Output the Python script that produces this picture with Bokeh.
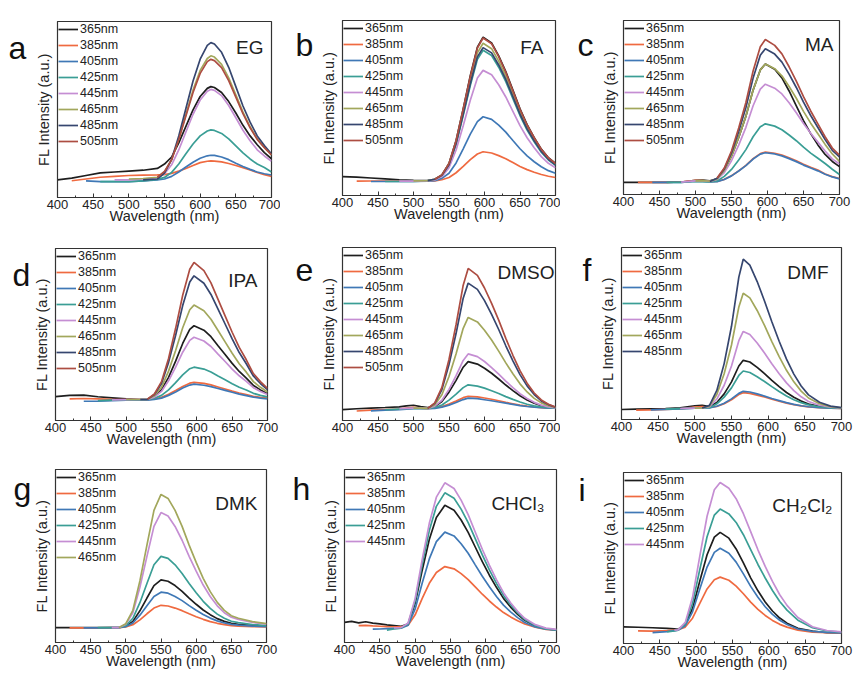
import numpy as np
from bokeh.plotting import figure
from bokeh.models import Range1d, FixedTicker, Legend, LegendItem, Label, ColumnDataSource
from bokeh.layouts import row, column
from bokeh.embed import file_html
from bokeh.resources import INLINE

FONT = "Liberation Sans"

excitations = ["365nm", "385nm", "405nm", "425nm", "445nm", "465nm", "485nm", "505nm"]
colors = ["#1e1e1e", "#ef6a40", "#3f78b6", "#3a9e95", "#c58ed3", "#a2a75c", "#36466f", "#ad4d42"]
x_ticks = [400, 450, 500, 550, 600, 650, 700]
x_minor = [425, 475, 525, 575, 625, 675]
N = None

# ---------------- a: EG ----------------
wl_a = [400, 420, 440, 460, 480, 500, 520, 540, 550, 560, 570, 580, 590, 600, 610, 615, 620, 630, 640, 650, 660, 670, 680, 690, 700]
a_365 = [10, 11, 12.5, 14, 14.5, 15, 15.5, 16.5, 19, 23, 31, 40.4, 49.8, 57.4, 62, 63, 62.5, 59.7, 54.5, 48, 41, 35, 30, 25.5, 22]
a_385 = [N, 9.5, 10.5, 11.5, 12, 12.5, 12.7, 12.8, 13, 13.7, 15, 16.5, 18.2, 19.8, 20.6, 20.8, 20.7, 20.2, 19.3, 18.2, 17, 15.6, 14.2, 13, 12]
a_405 = [N, N, 9.5, 9, 9, 9, 9.5, 10, 10.5, 12, 14.5, 17.3, 20, 22.3, 23.7, 24, 23.9, 23, 21.5, 19.5, 17.6, 16, 14.5, 13.5, 12.8]
a_425 = [N, N, N, 9, 9, 9, 9.5, 10.3, 11.4, 14.3, 19, 24.8, 30.4, 35, 37.8, 38.4, 38.1, 36.4, 33.3, 29.3, 25.3, 21.9, 19, 17, 14.5]
a_445 = [N, N, N, N, 10, 10, 10.5, 11.3, 13.5, 18.6, 27, 37.2, 47.3, 55.4, 60.4, 61.4, 60.9, 57.9, 52.3, 45.3, 38.2, 32.2, 27.1, 23.6, 20.6]
a_465 = [N, N, N, N, N, 10.5, 10.8, 11.5, 14.5, 21.4, 33.2, 47.1, 61, 72.2, 79, 80.5, 79.8, 75.6, 68, 58.3, 48.5, 40.2, 33.2, 28.4, 24.2]
a_485 = [N, N, N, N, N, N, 10, 10.5, 13.9, 21.7, 35, 50.6, 66.2, 78.6, 86.4, 88, 87.2, 82.5, 74, 63, 52, 42.8, 35, 29.5, 24.8]
a_505 = [N, N, N, N, N, N, N, 11.5, 14.8, 21.5, 33, 46.3, 59.7, 70.5, 77.2, 78.5, 77.8, 73.8, 66.4, 57, 47.7, 39.6, 33, 28.3, 24.2]

# ---------------- b: FA ----------------
wl_b = [400, 420, 440, 460, 480, 500, 520, 530, 540, 550, 560, 570, 580, 590, 598, 610, 620, 630, 640, 650, 660, 670, 680, 690, 700]
b_365 = [10.8, 10.5, 10, 9.5, 9, 8.7, 8.5, 9.3, 11.8, 18.3, 31.5, 49.5, 68.4, 84.8, 90.5, 87.2, 79.8, 70.8, 60.2, 49.5, 40.5, 33.1, 26.5, 21.6, 18.3]
b_385 = [N, 8.2, 8.3, 8.3, 8.3, 8.3, 8.3, 8.4, 9, 10.3, 13, 16.6, 20.5, 23.7, 25, 24.3, 22.8, 21, 18.8, 16.6, 14.8, 13.3, 12, 11, 10.3]
b_405 = [N, N, 8, 8, 8, 8.1, 8.2, 8.5, 9.8, 12.7, 18.6, 26.7, 35.1, 42.2, 45, 43.5, 40.2, 36.2, 31.4, 26.7, 22.6, 19.3, 16.4, 14.2, 12.7]
b_425 = [N, N, N, 8, 8, 8.1, 8.3, 9, 11.3, 17.3, 29.2, 45.7, 62.8, 77.8, 83, 80, 73.3, 65.1, 55.4, 45.7, 37.4, 30.7, 24.7, 20.3, 17.3]
b_445 = [N, N, N, N, 8.2, 8.2, 8.3, 8.9, 10.8, 15.9, 26, 39.9, 54.4, 67.1, 71.5, 69, 63.3, 56.3, 48.1, 39.9, 33, 27.3, 22.2, 18.4, 15.9]
b_465 = [N, N, N, N, N, 8.4, 8.5, 9.3, 11.6, 18, 30.5, 47.8, 65.8, 81.5, 87, 83.9, 76.8, 68.2, 58, 47.8, 39.1, 32, 25.8, 21, 17.9]
b_485 = [N, N, N, N, N, N, 8.5, 9.3, 11.5, 17.6, 29.8, 46.5, 64, 79.2, 84.5, 81.5, 74.6, 66.3, 56.4, 46.5, 38.1, 31.3, 25.2, 20.7, 17.6]
b_505 = [N, N, N, N, N, N, N, 9.3, 11.8, 18.3, 31.3, 49.3, 68, 84.3, 90, 86.7, 79.4, 70.4, 59.8, 49.3, 40.3, 33, 26.4, 21.5, 18.3]

# ---------------- c: MA ----------------
wl_c = [400, 420, 440, 460, 480, 500, 510, 520, 530, 540, 550, 560, 570, 580, 590, 597, 610, 620, 630, 640, 650, 660, 670, 680, 690, 700]
c_365 = [7, 7, 7, 7, 7.2, 8.2, 8.3, 7.8, 9, 13.8, 22, 32.8, 45, 60, 71.6, 75, 72, 67, 59.5, 51, 42.5, 35, 28.5, 23, 19, 16]
c_385 = [N, 7, 7, 7, 7.2, 8.2, 8, 7.5, 7.5, 8.7, 10.8, 13.6, 16.7, 20.6, 23.5, 24.4, 23.7, 22.7, 21.1, 19.4, 17.4, 15.7, 14.1, 11.8, 10.3, 9.2]
c_405 = [N, N, 7, 7, 7, 7.6, 7.5, 7.2, 7.4, 8.6, 10.7, 13.5, 16.6, 20.4, 23.2, 24, 23.3, 22.2, 20.6, 18.9, 16.9, 15.2, 13.6, 11.6, 10.1, 9]
c_425 = [N, N, N, 7, 7, 7.5, 7.4, 7.2, 7.8, 10.4, 14.4, 19.8, 25.8, 33.2, 38.9, 40.6, 39.3, 37.2, 34.2, 30.9, 27.2, 23.8, 20.8, 17.8, 14.5, 11.5]
c_445 = [N, N, N, N, 7.1, 7.8, 7.8, 7.5, 8.7, 12.6, 19.4, 28.4, 38.6, 51, 60.6, 63.4, 61.1, 57.8, 52.7, 47, 40.8, 35.2, 30.1, 25, 20.5, 17.5]
c_465 = [N, N, N, N, N, 7.8, 8, 7.6, 9, 13.8, 22, 32.8, 45, 60, 71.6, 75, 72.3, 68.2, 62.1, 55.3, 47.8, 41, 34.9, 28.8, 23.3, 19]
c_485 = [N, N, N, N, N, N, N, 7.5, 9.3, 14.7, 23.9, 36.2, 50, 66.9, 80, 83.8, 80.7, 76.1, 69.2, 61.5, 53.1, 45.4, 38.5, 31.6, 25.4, 21.6]
c_505 = [N, N, N, N, N, N, N, N, 9.5, 15.2, 25, 38.2, 52.9, 71, 84.9, 89.1, 85.7, 80.8, 73.4, 65.2, 56.2, 48, 40.6, 33.2, 26.7, 22.6]

# ---------------- d: IPA ----------------
wl_d = [400, 420, 440, 460, 480, 500, 520, 530, 540, 550, 560, 570, 580, 590, 596, 610, 620, 630, 640, 650, 660, 670, 680, 690, 700]
d_365 = [13.9, 14.6, 14.7, 13.8, 13.2, 12.6, 12.2, 12.3, 14, 17.8, 25.1, 34.5, 44.8, 53, 55.1, 52.5, 48.7, 43.5, 38.4, 33.2, 28.5, 24.6, 20.4, 17.8, 15.6]
d_385 = [N, 12.6, 12.8, 12.6, 12.3, 12.2, 12.1, 12.1, 12.5, 13.5, 15.2, 17.4, 19.8, 21.7, 22.2, 21.6, 20.7, 19.5, 18.3, 17.1, 16, 15.1, 14.1, 13.5, 13]
d_405 = [N, N, 11.2, 11.3, 11.6, 11.8, 11.9, 11.9, 12.2, 13, 14.6, 16.6, 18.9, 20.6, 21.1, 20.5, 19.7, 18.6, 17.5, 16.4, 15.3, 14.5, 13.6, 13, 12.5]
d_425 = [N, N, N, 11.5, 11.8, 12, 12.1, 12.2, 12.9, 14.6, 17.8, 22, 26.5, 30.1, 31, 29.9, 28.2, 25.9, 23.7, 21.4, 19.3, 17.7, 15.8, 14.6, 13.7]
d_445 = [N, N, N, N, 12, 12.1, 12.2, 12.3, 13.6, 16.9, 23.1, 31, 39.7, 46.6, 48.4, 46.2, 43, 38.6, 34.3, 29.9, 26, 22.7, 19.1, 16.9, 15.1]
d_465 = [N, N, N, N, N, 12.2, 12.2, 12.3, 14.4, 19.3, 28.7, 40.7, 53.9, 64.4, 67.1, 63.8, 58.9, 52.3, 45.7, 39.1, 33, 28.1, 22.6, 19.3, 16.6]
d_485 = [N, N, N, N, N, N, 12.2, 12.3, 15.1, 21.5, 33.8, 49.6, 66.8, 80.5, 84.1, 79.8, 73.3, 64.7, 56.1, 47.4, 39.5, 33, 25.9, 21.5, 18]
d_505 = [N, N, N, N, N, N, N, 12.4, 15.4, 22.6, 36.1, 53.6, 72.8, 87.9, 91.9, 87.1, 80, 70.4, 60.8, 51.3, 42.5, 35.3, 27.3, 22.6, 18.6]

# ---------------- e: DMSO ----------------
wl_e = [400, 420, 440, 460, 480, 490, 500, 510, 520, 530, 540, 550, 560, 570, 577, 590, 600, 610, 620, 630, 640, 650, 660, 670, 680, 690, 700]
e_365 = [6.3, 6.8, 7.2, 7.5, 7.9, 8.5, 8.8, 8, 7.4, 8.1, 11, 16.4, 23.2, 30.8, 34, 32.6, 30.2, 27.3, 24, 20.5, 17.3, 14.3, 11.9, 10, 8.6, 7.8, 7.3]
e_385 = [N, 5.5, 6, 6.3, 6.6, 7.2, 7.6, 7.2, 6.9, 7.3, 8, 9.5, 11.2, 13.2, 14, 13.7, 13, 12.3, 11.4, 10.5, 9.7, 8.9, 8.3, 7.8, 7.4, 7.2, 7.1]
e_405 = [N, N, 5.6, 6, 6.3, 6.6, 6.8, 6.8, 6.8, 7, 7.7, 8.9, 10.4, 12.1, 12.9, 12.6, 12, 11.4, 10.7, 10, 9.3, 8.6, 8.1, 7.7, 7.4, 7.2, 7.1]
e_425 = [N, N, N, 6.2, 6.6, 6.8, 7, 7, 7, 7.5, 9, 11.8, 15.2, 19, 20.6, 19.9, 18.7, 17.2, 15.6, 13.8, 12.2, 10.7, 9.4, 8.5, 7.8, 7.4, 7.1]
e_445 = [N, N, N, N, 6.8, 7, 7.2, 7.1, 7, 8.3, 11.7, 18, 25.9, 34.7, 38.5, 36.9, 34.1, 30.6, 26.8, 22.8, 19, 15.5, 12.7, 10.5, 8.9, 7.9, 7.3]
e_465 = [N, N, N, N, N, N, 7.2, 7.1, 7, 9.1, 14.9, 25.4, 38.6, 53.3, 59.6, 57, 52.2, 46.5, 40.1, 33.3, 27, 21.2, 16.5, 12.8, 10.2, 8.6, 7.5]
e_485 = [N, N, N, N, N, N, N, N, 7, 9.9, 17.9, 32.3, 50.4, 70.7, 79.4, 75.8, 69.3, 61.3, 52.6, 43.2, 34.5, 26.5, 20, 15, 11.3, 9.2, 7.7]
e_505 = [N, N, N, N, N, N, N, N, 7, 10.2, 19.1, 35.3, 55.5, 78.2, 87.9, 83.9, 76.6, 67.7, 58, 47.5, 37.7, 28.8, 21.6, 15.9, 11.9, 9.4, 7.8]

# ---------------- f: DMF ----------------
wl_f = [400, 420, 440, 460, 480, 500, 510, 520, 530, 540, 550, 560, 566, 575, 585, 595, 605, 615, 625, 635, 645, 655, 670, 685, 700]
f_365 = [5.8, 6, 6.2, 6.4, 6.8, 8, 8.3, 7.5, 9.9, 14.9, 21.9, 31.1, 34.4, 33.4, 30.3, 26.7, 22.7, 19.1, 15.7, 12.9, 10.7, 9, 7.6, 7, 6.7]
f_385 = [N, 5.4, 5.6, 5.9, 6.2, 7.2, 7.5, 7, 7.6, 9.2, 11.5, 14.5, 15.6, 15.2, 14.2, 13.1, 11.8, 10.6, 9.5, 8.6, 7.9, 7.3, 6.9, 6.6, 6.5]
f_405 = [N, N, 5.6, 5.9, 6.2, 6.6, 6.8, 6.7, 7.7, 9.5, 12, 15.2, 16.4, 16, 14.9, 13.6, 12.2, 11, 9.8, 8.8, 8, 7.4, 6.9, 6.6, 6.5]
f_425 = [N, N, N, 6, 6.3, 6.6, 6.8, 6.9, 9.1, 13, 18.4, 25.6, 28.2, 27.3, 24.9, 22.1, 19.1, 16.3, 13.7, 11.5, 9.8, 8.5, 7.4, 6.8, 6.6]
f_445 = [N, N, N, N, 6.4, 6.6, 6.7, 7.4, 11.9, 19.9, 31.1, 45.8, 51.2, 49.4, 44.5, 38.7, 32.4, 26.6, 21.3, 16.8, 13.2, 10.5, 8.3, 7.2, 6.7]
f_465 = [N, N, N, N, N, 6.6, 6.7, 7.8, 14.5, 26.6, 43.3, 65.4, 73.4, 70.7, 63.4, 54.7, 45.3, 36.6, 28.6, 21.9, 16.5, 12.5, 9.2, 7.5, 6.8]
f_485 = [N, N, N, N, N, N, 6.7, 8.2, 16.9, 32.5, 54.2, 82.8, 93.2, 89.7, 80.2, 68.9, 56.8, 45.5, 35.1, 26.4, 19.5, 14.3, 10, 7.8, 6.9]

# ---------------- g: DMK ----------------
wl_g = [400, 420, 440, 460, 480, 490, 500, 510, 520, 530, 540, 550, 560, 570, 580, 590, 600, 610, 620, 630, 640, 650, 660, 680, 700]
g_365 = [8.6, 8.6, 8.6, 8.6, 8.6, 8.6, 9.4, 12.2, 18.3, 25.7, 32.9, 36.2, 35.4, 32.9, 29.6, 25.7, 22.1, 18.8, 16.1, 13.8, 12.2, 11.1, 10.5, 9.8, 9.4]
g_385 = [N, 8.5, 8.5, 8.5, 8.6, 8.6, 9, 10.3, 13.1, 16.6, 19.9, 21.5, 21.1, 19.9, 18.4, 16.6, 14.9, 13.4, 12.1, 11.1, 10.3, 9.8, 9.5, 9.2, 9]
g_405 = [N, N, 8.5, 8.5, 8.6, 8.6, 9.2, 11.3, 15.8, 21.3, 26.6, 29.1, 28.5, 26.6, 24.2, 21.3, 18.6, 16.2, 14.1, 12.5, 11.3, 10.5, 10, 9.5, 9.2]
g_425 = [N, N, N, 8.6, 8.6, 8.6, 9.8, 14, 23, 34.1, 44.9, 49.8, 48.6, 44.9, 39.9, 34.1, 28.8, 23.8, 19.7, 16.4, 14, 12.3, 11.5, 10.4, 9.8]
g_445 = [N, N, N, N, 8.6, 8.6, 10.6, 17.2, 31.9, 49.8, 67.1, 75.1, 73.1, 67.1, 59.1, 49.8, 41.2, 33.2, 26.6, 21.2, 17.2, 14.6, 13.3, 11.6, 10.6]
g_465 = [N, N, N, N, N, 8.6, 10.9, 18.6, 35.6, 56.3, 76.4, 85.6, 83.3, 76.4, 67.1, 56.3, 46.3, 37.1, 29.4, 23.2, 18.6, 15.5, 14, 12.1, 10.9]

# ---------------- h: CHCl3 ----------------
wl_h = [400, 410, 420, 430, 440, 450, 460, 470, 480, 490, 500, 510, 520, 530, 542, 555, 565, 575, 585, 595, 605, 615, 625, 635, 645, 655, 670, 685, 700]
h_365 = [11.6, 12.2, 11.3, 12, 11.2, 10.8, 10.2, 9.8, 9.4, 10.6, 22.7, 41.8, 59.5, 72.2, 79.3, 76.5, 70.8, 63.7, 55.2, 46.7, 38.9, 31.9, 25.5, 20.5, 16.3, 12.8, 9.6, 8, 7.2]
h_385 = [N, N, 9.7, 9.9, 9.6, 9.4, 9.2, 9.1, 9, 10, 16, 25.5, 34.2, 40.5, 43.9, 42.6, 39.8, 36.3, 32.1, 27.9, 24, 20.5, 17.3, 14.8, 12.6, 10.7, 8.8, 7.6, 7.2]
h_405 = [N, N, N, N, 7.7, 7.8, 8, 8.2, 8.3, 10, 19.4, 34.4, 48.3, 58.3, 63.8, 61.6, 57.1, 51.6, 44.9, 38.3, 32.2, 26.6, 21.6, 17.7, 14.4, 11.6, 9, 7.7, 7.2]
h_425 = [N, N, N, N, N, N, 7.2, 7.8, 8.3, 10.8, 24.1, 45.2, 64.7, 78.7, 86.5, 83.4, 77.1, 69.3, 60, 50.6, 42, 34.2, 27.2, 21.8, 17.1, 13.3, 9.8, 7.9, 7.3]
h_445 = [N, N, N, N, N, N, N, 8.5, 8.6, 11.3, 25.5, 48, 68.9, 84, 92.3, 89, 82.3, 73.9, 63.9, 53.9, 44.7, 36.4, 28.8, 23, 18, 14, 10.3, 8.3, 7.6]

# ---------------- i: CH2Cl2 ----------------
wl_i = [400, 420, 440, 460, 470, 475, 485, 495, 505, 515, 525, 533, 545, 555, 565, 575, 585, 595, 605, 615, 625, 640, 660, 680, 700]
i_365 = [9.7, 9.5, 9.2, 8.8, 8.5, 8.3, 10.9, 20.5, 36.5, 51.9, 62.2, 65, 61.6, 55.3, 47.1, 38.4, 30.8, 24.3, 19, 14.9, 11.9, 8.9, 7.3, 6.3, 6.2]
i_385 = [N, 7.4, 7.2, 7.5, 7.8, 8, 9.6, 14.8, 23.5, 31.9, 37.3, 38.8, 37, 33.6, 29.1, 24.2, 20, 16.4, 13.5, 11.2, 9.6, 7.8, 6.6, 6.3, 6.2]
i_405 = [N, N, 6.4, 7, 7.5, 7.8, 10.4, 18.5, 31.9, 44.7, 53.3, 55.7, 52.8, 47.6, 40.7, 33.4, 27, 21.5, 17, 13.6, 11.1, 8.5, 7.1, 6.5, 6.2]
i_425 = [N, N, N, 6.8, 7.3, 7.8, 11.5, 23.5, 43.3, 62.4, 75.1, 78.6, 75.8, 70.8, 63.6, 54.9, 46.2, 38.3, 31, 24.6, 19.5, 13.6, 9.2, 7.3, 6.6]
i_445 = [N, N, N, N, 7.8, 8, 12.3, 27, 51.1, 74.4, 89.9, 94.2, 90.8, 84.7, 75.9, 65.4, 54.8, 45.1, 36.3, 28.5, 22.3, 15.2, 9.8, 7.6, 6.8]

letters = ["a", "b", "c", "d", "e", "f", "g", "h", "i"]
solvents = ["EG", "FA", "MA", "IPA", "DMSO", "DMF", "DMK", "CHCl\u2083", "CH\u2082Cl\u2082"]


def letter_fig(letter, wl_px, h, lx, base):
    f = figure(width=wl_px, height=h, x_range=Range1d(0, wl_px), y_range=Range1d(0, h),
               output_backend="svg", toolbar_location=None, min_border=0,
               x_axis_location=None, y_axis_location=None, outline_line_color=None)
    f.grid.visible = False
    f.add_layout(Label(x=lx, y=h - base, text=letter, text_font=FONT, text_font_size="32px",
                       text_baseline="alphabetic", text_align="left", text_color="#111111"))
    return f


def make_panel(wl, curves, letter, solvent, dims, letter_pos, solv_off, xtitle=True):
    w, h, lw, bl, br, bt, bb = dims
    p = figure(width=w - lw, height=h, x_range=Range1d(400, 700), y_range=Range1d(0, 100),
               output_backend="svg", toolbar_location=None,
               min_border_left=bl - lw, min_border_right=br, min_border_top=bt, min_border_bottom=bb)
    p.grid.visible = False
    p.outline_line_color = "#333333"
    p.outline_line_width = 1.2
    p.background_fill_color = "white"
    p.border_fill_color = "white"

    xa = p.xaxis[0]
    xa.ticker = FixedTicker(ticks=x_ticks, minor_ticks=x_minor)
    xa.major_tick_in = 4
    xa.major_tick_out = 0
    xa.minor_tick_in = 2
    xa.minor_tick_out = 0
    xa.major_tick_line_color = "#333333"
    xa.minor_tick_line_color = "#333333"
    xa.axis_line_color = "#333333"
    xa.major_label_standoff = 2
    xa.major_label_text_font = FONT
    xa.major_label_text_font_size = "13px"
    xa.major_label_text_color = "#222222"
    if xtitle:
        xa.axis_label = "Wavelength (nm)"
    xa.axis_label_standoff = -4
    xa.axis_label_text_font = FONT
    xa.axis_label_text_font_size = "14.5px"
    xa.axis_label_text_font_style = "normal"
    xa.axis_label_text_color = "#222222"

    ya = p.yaxis[0]
    ya.ticker = FixedTicker(ticks=[])
    ya.major_tick_in = 0
    ya.major_tick_out = 0
    ya.minor_tick_in = 0
    ya.minor_tick_out = 0
    ya.axis_line_color = "#333333"
    ya.major_label_text_font_size = "0px"
    ya.axis_label = "FL Intensity (a.u.)"
    ya.axis_label_standoff = 6
    ya.axis_label_text_font = FONT
    ya.axis_label_text_font_size = "14.5px"
    ya.axis_label_text_font_style = "normal"
    ya.axis_label_text_color = "#222222"

    items = []
    for k, vals in enumerate(curves):
        src = ColumnDataSource(dict(x=wl, y=np.array(vals, dtype=float)))
        r = p.line("x", "y", source=src, line_color=colors[k], line_width=1.7)
        items.append(LegendItem(label=excitations[k], renderers=[r]))
    legend = Legend(items=items, location="top_left", margin=1, padding=5, spacing=2,
                    glyph_width=20, glyph_height=14, label_height=14, label_standoff=2,
                    label_text_font=FONT, label_text_font_size="12.5px", label_text_color="#222222",
                    background_fill_alpha=0, border_line_color=None)
    p.add_layout(legend)

    p.add_layout(Label(x=700, y=100, x_offset=solv_off[0], y_offset=solv_off[1], text=solvent,
                       text_font=FONT, text_font_size="19px", text_baseline="alphabetic",
                       text_align="right", text_color="#222222"))
    lf = letter_fig(letter, lw, h, letter_pos[0], letter_pos[1])
    return row(lf, p)


# dims: (total width, height, letter strip width, frame-left offset, right border, top border, bottom border)
pa = make_panel(wl_a, [a_365, a_385, a_405, a_425, a_445, a_465, a_485, a_505], letters[0], solvents[0],
                (280, 229, 28, 57, 9, 21, 32), (8, 34), (-8, -26))
pb = make_panel(wl_b, [b_365, b_385, b_405, b_425, b_445, b_465, b_485, b_505], letters[1], solvents[1],
                (280, 229, 34, 62, 5, 20, 34), (15, 32), (-12, -27))
pc = make_panel(wl_c, [c_365, c_385, c_405, c_425, c_445, c_465, c_485, c_505], letters[2], solvents[2],
                (293, 229, 36, 63, 14, 20, 35), (17, 32), (-6, -24))
pd = make_panel(wl_d, [d_365, d_385, d_405, d_425, d_445, d_465, d_485, d_505], letters[3], solvents[3],
                (280, 223, 30, 53, 13, 19, 32), (12, 34), (-10, -32))
pe = make_panel(wl_e, [e_365, e_385, e_405, e_425, e_445, e_465, e_485, e_505], letters[4], solvents[4],
                (280, 223, 34, 62, 5, 18, 32), (15, 29), (-1, -25), xtitle=False)
pf = make_panel(wl_f, [f_365, f_385, f_405, f_425, f_445, f_465, f_485], letters[5], solvents[5],
                (293, 223, 32, 61, 12, 18, 33), (22, 29), (-13, -25))
pg = make_panel(wl_g, [g_365, g_385, g_405, g_425, g_445, g_465], letters[6], solvents[6],
                (280, 225, 30, 52, 14, 17, 35), (13, 25), (-9, -34))
ph = make_panel(wl_h, [h_365, h_385, h_405, h_425, h_445], letters[7], solvents[7],
                (280, 225, 31, 64, 4, 17, 35), (12, 26), (-12, -34))
pi = make_panel(wl_i, [i_365, i_385, i_405, i_425, i_445], letters[8], solvents[8],
                (293, 225, 28, 63, 12, 20, 34), (18, 23), (-9, -33))

layout = column(row(pa, pb, pc), row(pd, pe, pf), row(pg, ph, pi))

open("out.html", "w").write(file_html(layout, INLINE))
